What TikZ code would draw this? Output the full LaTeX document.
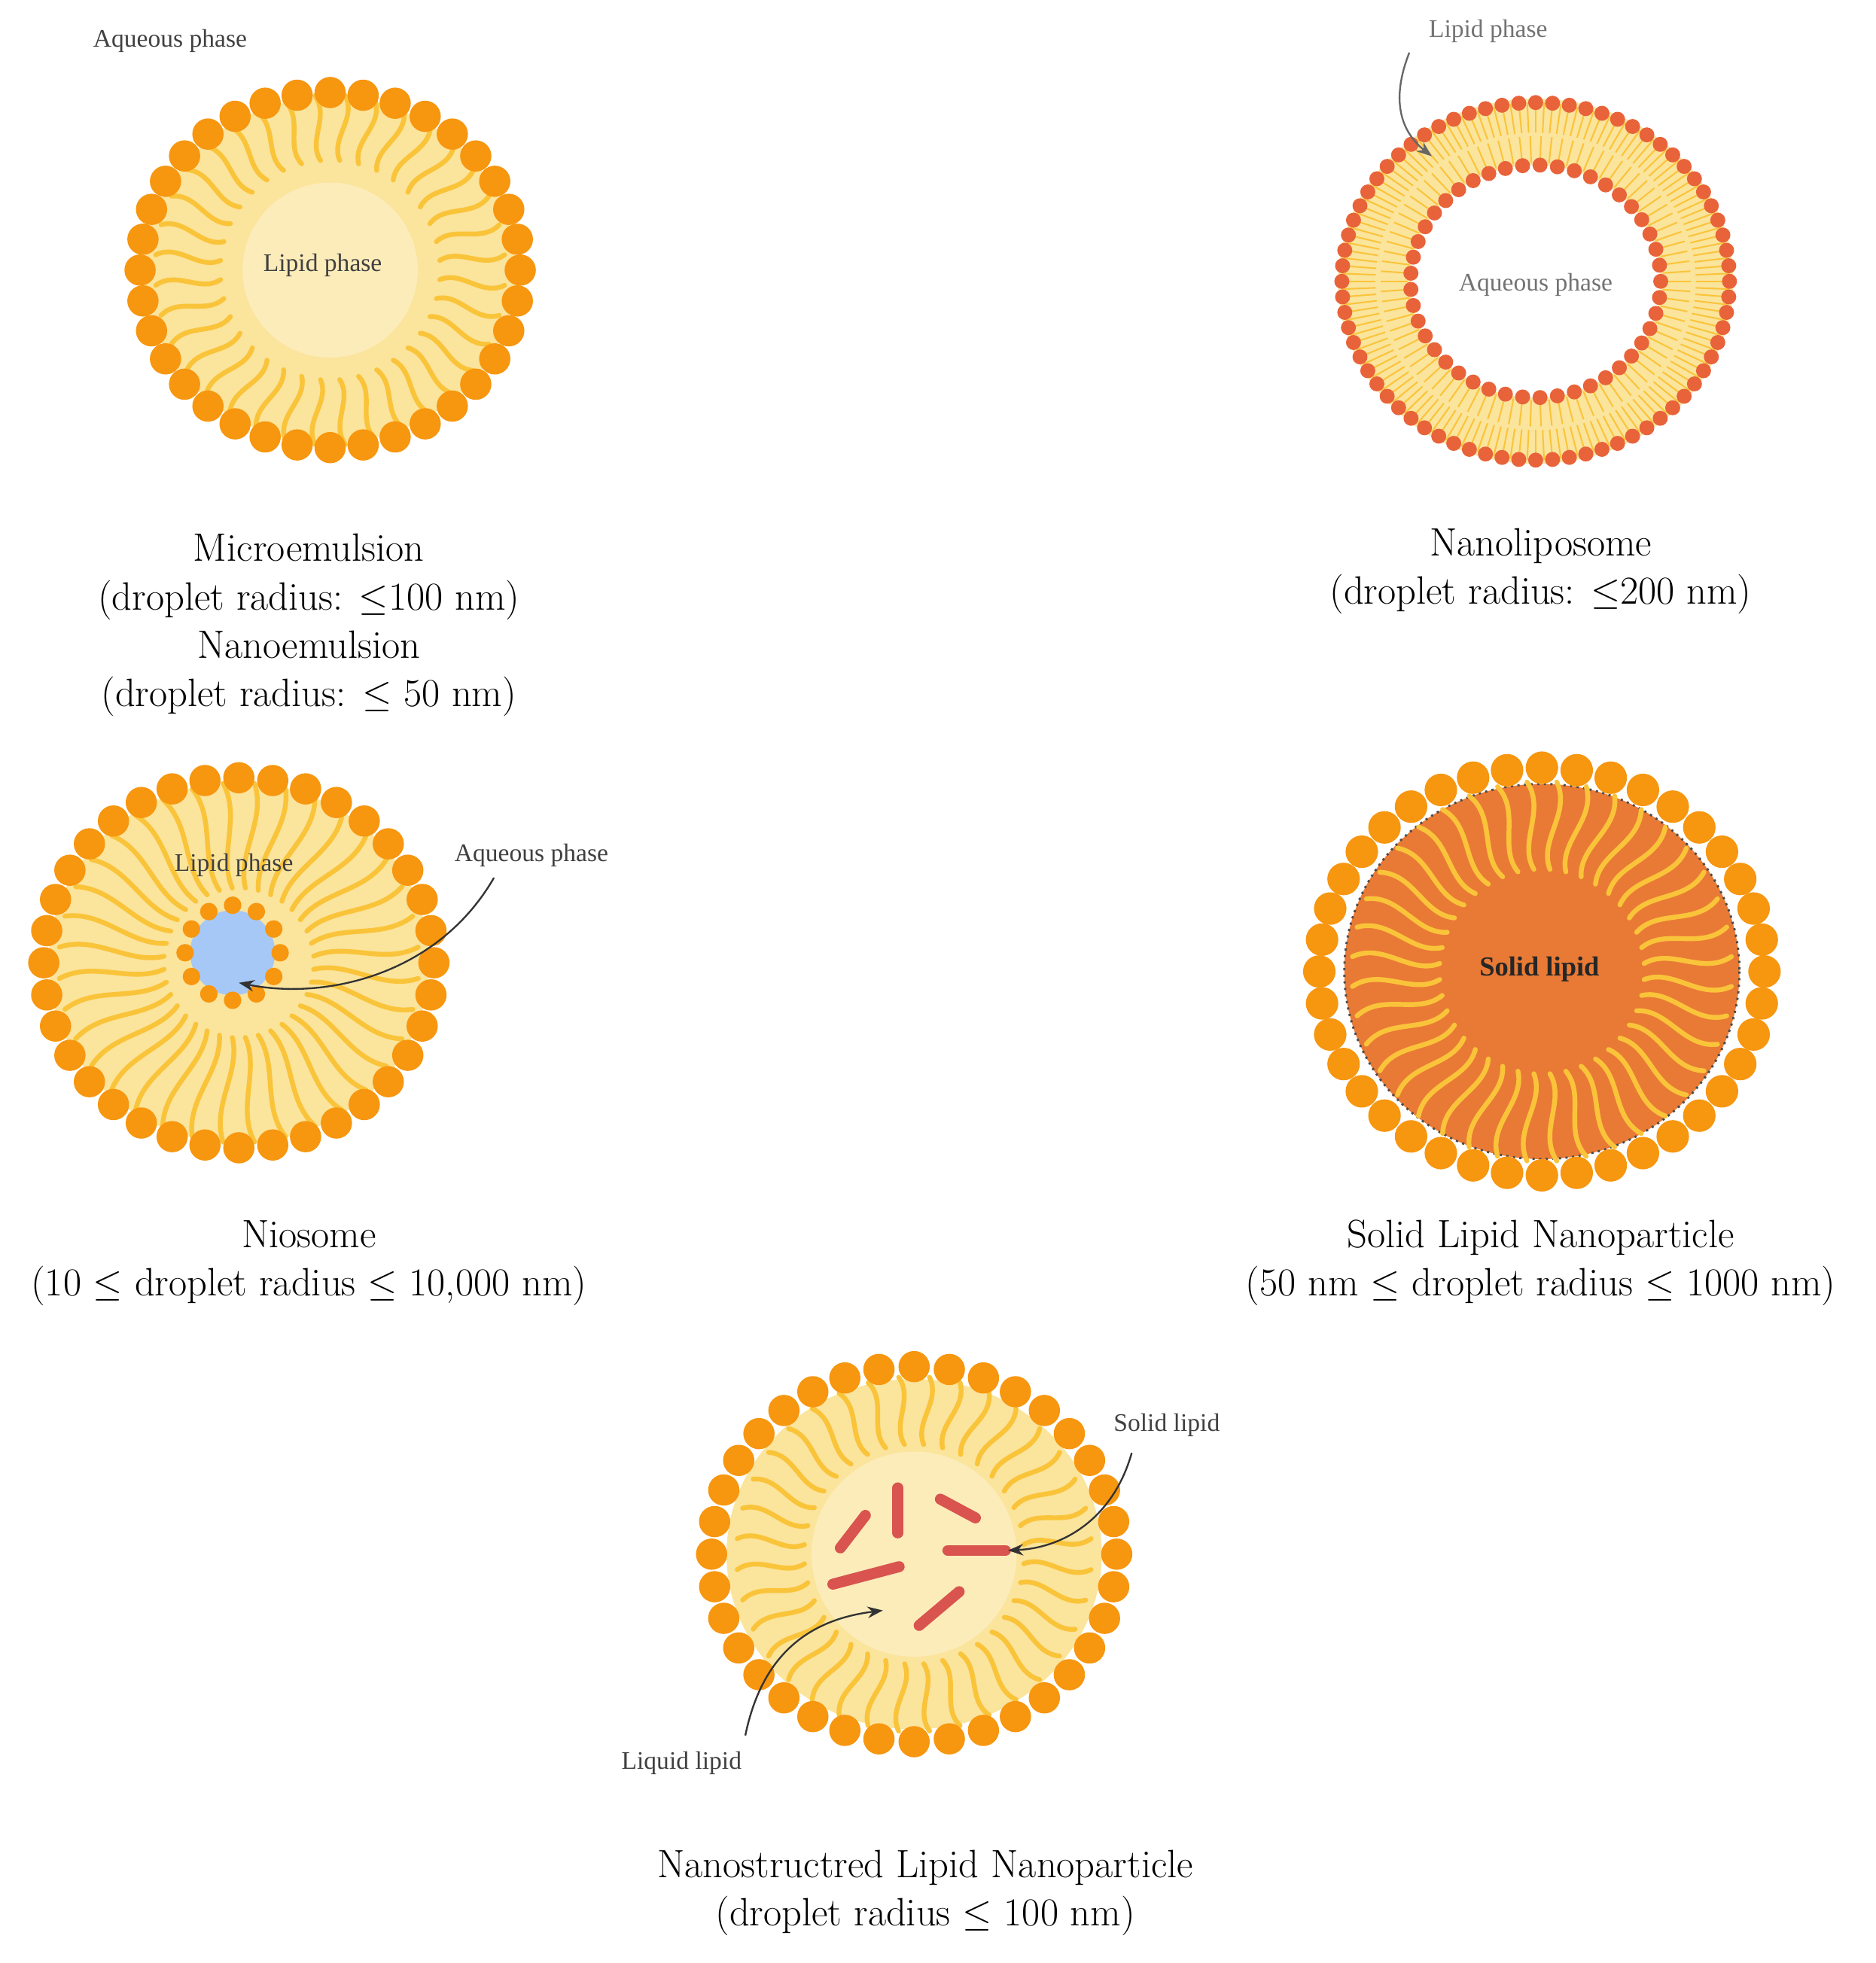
\documentclass[tikz,border=0pt]{standalone}
\usepackage{fontspec}
\newfontfamily\lab{Liberation Serif}
\usetikzlibrary{arrows.meta,calc}
\definecolor{headc}{HTML}{F7960F}
\definecolor{corec}{HTML}{FBE49C}
\definecolor{tailc}{HTML}{FAC43A}
\definecolor{lipo}{HTML}{E8633A}
\definecolor{slnc}{HTML}{E97A35}
\definecolor{rodc}{HTML}{D9534F}
\definecolor{aqc}{HTML}{A6C8F7}
\tikzset{
 head/.style={fill=headc},
 tail/.style={draw=tailc,line width=2.2pt,line cap=round},
 captxt/.style={font=\fontsize{18}{22}\selectfont,align=center},
 lbl/.style={font=\lab\fontsize{11.5}{13}\selectfont,text=black!75},
 pointer/.style={draw=black!80,line width=0.8pt,-{Stealth[length=7pt]}}
}
\newcommand\mytail[4]{\draw[tail] (#1:#2) .. controls ({#1+#4}:{#2-(#2-#3)/3}) and ({#1-#4}:{#2-2*(#2-#3)/3}) .. (#1:#3);}
\begin{document}
\begin{tikzpicture}[x=0.02cm,y=-0.02cm]
\useasboundingbox (0,0) rectangle (1500,1570);
% ---- Microemulsion
\begin{scope}[shift={(264,216)}]
 \fill[corec] (0,0) ellipse [x radius=148,y radius=138];
 \fill[corec!70!white] (0,0) circle [radius=70];
 \foreach \a in {0,10,...,350} {\mytail{\a+5}{140}{88}{5}}
 \foreach \a in {0,10,...,350} \fill[head] (\a:152 and 142) circle [radius=12.5];
 \node[lbl] (lp1) at (-6,-4) {Lipid phase};
\end{scope}
\node[lbl] (aq1) at (136,33) {Aqueous phase};
\node[captxt] (c1) at (247,500) {Microemulsion\\(droplet radius: $\le$100 nm)\\Nanoemulsion\\(droplet radius: $\le$ 50 nm)};
% ---- Nanoliposome
\begin{scope}[shift={(1228,225)}]
 \fill[corec,even odd rule] (0,0) ellipse [x radius=158,y radius=146] (0,0) ellipse [x radius=100,y radius=93];
 \foreach \a in {0,2.5,...,357.5} \draw[tailc,line width=0.7pt] (\a:155 and 143) -- (\a:128 and 119);
 \foreach \a in {0,4,...,356} \draw[tailc,line width=0.7pt] (\a:102 and 95) -- (\a:124 and 116);
 \foreach \a in {0,5,...,355} \fill[lipo] (\a:155 and 143) circle [radius=6];
 \foreach \a in {0,8,...,352} \fill[lipo] (\a:100 and 93) circle [radius=6];
 \node[lbl,text=black!55] (aq2) at (0,3) {Aqueous phase};
 \coordinate (t2) at (-83,-100);
\end{scope}
\node[lbl,text=black!55] (lp2) at (1190,25) {Lipid phase};
\draw[pointer,draw=black!60] (1127,42) .. controls (1112,80) and (1120,105) .. (t2);
\node[captxt] (c2) at (1232,457) {Nanoliposome\\(droplet radius: $\le$200 nm)};
% ---- Niosome
\begin{scope}[shift={(191,770)}]
 \fill[corec] (0,0) ellipse [x radius=152,y radius=144];
 \foreach \a in {0,10,...,350} {\mytail{\a+5}{144}{60}{6}}
 \fill[aqc] (-5,-8) circle [radius=34];
 \foreach \a in {0,30,...,330} \fill[head] ($(-5,-8)+(\a:38)$) circle [radius=7];
 \foreach \a in {0,10,...,350} \fill[head] (\a:156 and 148) circle [radius=12.5];
 \node[lbl] (lp3) at (-4,-78) {Lipid phase};
 \coordinate (t3) at (0,16);
\end{scope}
\node[lbl] (aq3) at (425,684) {Aqueous phase};
\draw[pointer] (395,702) .. controls (350,780) and (260,800) .. (t3);
\node[captxt] (c3) at (247,1010) {Niosome\\(10 $\le$ droplet radius $\le$ 10,000 nm)};
% ---- SLN
\begin{scope}[shift={(1233,777)}]
 \fill[slnc] (0,0) ellipse [x radius=158,y radius=150];
 \draw[black!70,dotted,line width=1pt] (0,0) ellipse [x radius=158,y radius=150];
 \foreach \a in {0,9,...,351} {\mytail{\a+4.5}{152}{82}{6}}
 \foreach \a in {0,9,...,351} \fill[head] (\a:178 and 163) circle [radius=13];
 \node[lbl,text=black!85,font=\lab\bfseries\fontsize{12.5}{14}\selectfont] (sl4) at (-2,-2) {Solid lipid};
\end{scope}
\node[captxt] (c4) at (1232,1010) {Solid Lipid Nanoparticle\\(50 nm $\le$ droplet radius $\le$ 1000 nm)};
% ---- NLC
\begin{scope}[shift={(731,1243)}]
 \fill[corec] (0,0) ellipse [x radius=150,y radius=140];
 \fill[corec!70!white] (0,0) circle [radius=82];
 \foreach \a in {0,10,...,350} {\mytail{\a+5}{142}{88}{5}}
 \foreach \a in {0,10,...,350} \fill[head] (\a:162 and 150) circle [radius=12.5];
\end{scope}
\begin{scope}[rodc,line width=5pt,line cap=round]
 \draw (672,1238) -- (692,1212);
 \draw (718,1190) -- (718,1226);
 \draw (752,1199) -- (780,1214);
 \draw (758,1240) -- (804,1240);
 \draw (666,1267) -- (719,1253);
 \draw (735,1300) -- (767,1273);
\end{scope}
\coordinate (t5a) at (806,1240);
\coordinate (t5b) at (706,1288);
\node[lbl] (sl5) at (933,1140) {Solid lipid};
\node[lbl] (ll5) at (545,1410) {Liquid lipid};
\draw[pointer] (905,1162) .. controls (890,1215) and (850,1238) .. (t5a);
\draw[pointer] (596,1388) .. controls (610,1320) and (650,1295) .. (t5b);
\node[captxt] (c5) at (740,1514) {Nanostructred Lipid Nanoparticle\\(droplet radius $\le$ 100 nm)};
\end{tikzpicture}
\end{document}
